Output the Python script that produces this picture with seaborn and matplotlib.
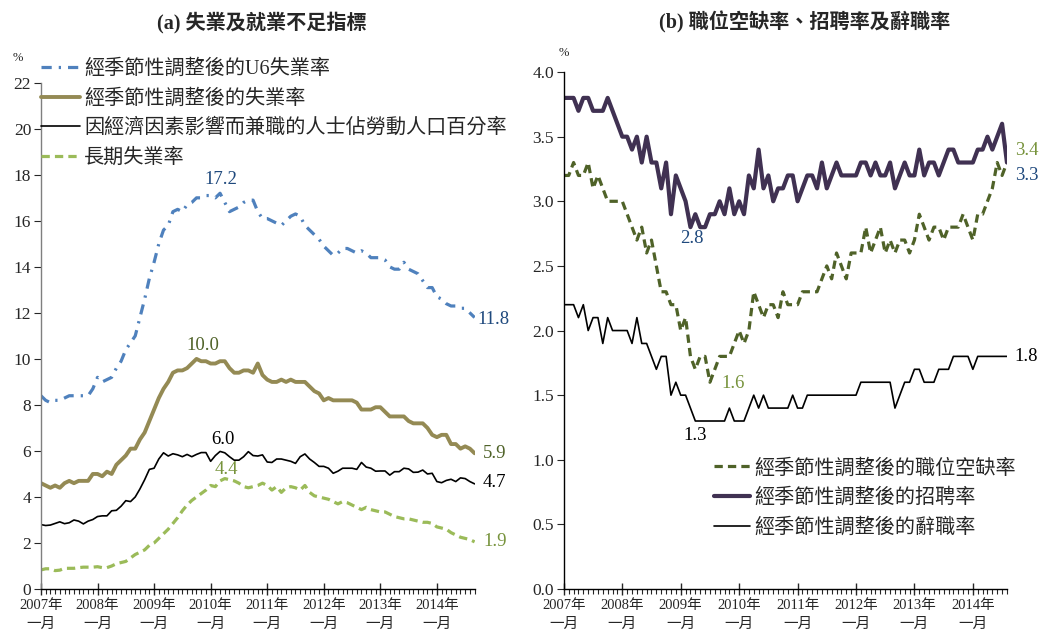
import numpy as np
import pandas as pd
import matplotlib
matplotlib.use('Agg')
import matplotlib.pyplot as plt
from matplotlib.ticker import MultipleLocator, FormatStrFormatter
import seaborn as sns

# monthly data, Jan 2007 onwards
# (a) unemployment & underemployment, %
u6_rate = [8.4, 8.2, 8.1, 8.2, 8.2, 8.3, 8.4, 8.4, 8.4, 8.4, 8.4, 8.7,
           9.2, 9.0, 9.1, 9.2, 9.6, 9.9, 10.4, 10.7, 11.0, 11.8, 12.6, 13.5,
           14.2, 15.0, 15.6, 15.8, 16.4, 16.5, 16.4, 16.7, 16.8, 17.0, 17.0, 17.1,
           17.1, 17.0, 17.2, 16.8, 16.4, 16.5, 16.6, 16.8, 16.9, 16.9, 16.4, 16.1,
           16.1, 16.0, 15.9, 15.8, 16.0, 16.2, 16.3, 16.2, 15.8, 15.6, 15.4, 15.2,
           14.9, 14.7, 14.5, 14.6, 14.8, 14.8, 14.7, 14.6, 14.7, 14.6, 14.4, 14.4,
           14.4, 14.3, 14.0, 13.9, 13.9, 14.2, 13.9, 13.8, 13.7, 13.4, 13.1, 13.1,
           12.7, 12.6, 12.4, 12.3, 12.3, 12.2, 12.2, 12.0, 11.8]
u3_rate = [4.6, 4.5, 4.4, 4.5, 4.4, 4.6, 4.7, 4.6, 4.7, 4.7, 4.7, 5.0,
           5.0, 4.9, 5.1, 5.0, 5.4, 5.6, 5.8, 6.1, 6.1, 6.5, 6.8, 7.3,
           7.8, 8.3, 8.7, 9.0, 9.4, 9.5, 9.5, 9.6, 9.8, 10.0, 9.9, 9.9,
           9.8, 9.8, 9.9, 9.9, 9.6, 9.4, 9.4, 9.5, 9.5, 9.4, 9.8, 9.3,
           9.1, 9.0, 9.0, 9.1, 9.0, 9.1, 9.0, 9.0, 9.0, 8.8, 8.6, 8.5,
           8.2, 8.3, 8.2, 8.2, 8.2, 8.2, 8.2, 8.1, 7.8, 7.8, 7.8, 7.9,
           7.9, 7.7, 7.5, 7.5, 7.5, 7.5, 7.3, 7.2, 7.2, 7.2, 7.0, 6.7,
           6.6, 6.7, 6.7, 6.3, 6.3, 6.1, 6.2, 6.1, 5.9]
part_time = [2.8, 2.76, 2.78, 2.85, 2.92, 2.84, 2.88, 3.0, 2.95, 2.83, 2.95, 3.02,
             3.15, 3.18, 3.18, 3.4, 3.42, 3.6, 3.84, 3.8, 4.0, 4.35, 4.75, 5.2,
             5.25, 5.65, 5.92, 5.78, 5.88, 5.83, 5.75, 5.85, 5.75, 5.85, 5.93, 5.93,
             5.55, 5.8, 5.98, 5.92, 5.75, 5.6, 5.6, 5.75, 5.97, 5.8, 5.78, 5.83,
             5.52, 5.5, 5.65, 5.65, 5.6, 5.55, 5.46, 5.75, 5.87, 5.65, 5.5, 5.33,
             5.33, 5.25, 5.03, 5.12, 5.25, 5.25, 5.25, 5.2, 5.5, 5.3, 5.25, 5.12,
             5.13, 5.13, 4.95, 5.1, 5.1, 5.25, 5.22, 5.07, 5.08, 5.17, 5.0, 5.03,
             4.67, 4.62, 4.72, 4.77, 4.67, 4.83, 4.8, 4.67, 4.57]
long_term = [0.83, 0.88, 0.88, 0.8, 0.82, 0.9, 0.9, 0.9, 0.93, 0.95, 0.95, 0.95,
             0.97, 0.93, 0.93, 1.0, 1.1, 1.15, 1.2, 1.35, 1.5, 1.6, 1.7, 1.9,
             2.0, 2.2, 2.4, 2.6, 2.85, 3.1, 3.4, 3.65, 3.85, 4.0, 4.15, 4.3,
             4.5, 4.45, 4.7, 4.8, 4.75, 4.7, 4.6, 4.45, 4.4, 4.45, 4.5, 4.6,
             4.5, 4.3, 4.45, 4.2, 4.4, 4.45, 4.4, 4.3, 4.5, 4.2, 4.05, 4.0,
             3.95, 3.9, 3.8, 3.7, 3.8, 3.75, 3.65, 3.55, 3.45, 3.55, 3.45, 3.4,
             3.35, 3.35, 3.25, 3.15, 3.1, 3.05, 3.05, 3.0, 2.95, 2.9, 2.9, 2.85,
             2.7, 2.65, 2.6, 2.45, 2.35, 2.25, 2.2, 2.15, 2.05]

# (b) job openings, hires, quits, %
openings = [3.2, 3.2, 3.3, 3.2, 3.2, 3.3, 3.1, 3.2, 3.1, 3.0, 3.0, 3.0,
            3.0, 2.9, 2.8, 2.7, 2.8, 2.6, 2.7, 2.5, 2.3, 2.3, 2.2, 2.2,
            2.0, 2.1, 1.8, 1.7, 1.8, 1.8, 1.6, 1.7, 1.8, 1.8, 1.8, 1.9,
            2.0, 1.9, 2.0, 2.3, 2.2, 2.1, 2.2, 2.2, 2.1, 2.3, 2.2, 2.2,
            2.2, 2.3, 2.3, 2.3, 2.3, 2.4, 2.5, 2.4, 2.6, 2.5, 2.4, 2.6,
            2.6, 2.6, 2.8, 2.6, 2.7, 2.8, 2.6, 2.7, 2.6, 2.7, 2.7, 2.6,
            2.7, 2.9, 2.8, 2.7, 2.8, 2.8, 2.7, 2.8, 2.8, 2.8, 2.9, 2.8,
            2.7, 2.9, 2.9, 3.0, 3.1, 3.3, 3.2, 3.3]
hires = [3.8, 3.8, 3.8, 3.7, 3.8, 3.8, 3.7, 3.7, 3.7, 3.8, 3.7, 3.6,
         3.5, 3.5, 3.4, 3.5, 3.3, 3.5, 3.3, 3.3, 3.1, 3.3, 2.9, 3.2,
         3.1, 3.0, 2.8, 2.9, 2.8, 2.8, 2.9, 2.9, 3.0, 2.9, 3.1, 2.9,
         3.0, 2.9, 3.2, 3.1, 3.4, 3.1, 3.2, 3.0, 3.1, 3.1, 3.2, 3.2,
         3.0, 3.1, 3.2, 3.2, 3.1, 3.3, 3.1, 3.2, 3.3, 3.2, 3.2, 3.2,
         3.2, 3.3, 3.3, 3.2, 3.3, 3.2, 3.2, 3.3, 3.1, 3.2, 3.3, 3.2,
         3.2, 3.4, 3.2, 3.3, 3.3, 3.2, 3.3, 3.4, 3.4, 3.3, 3.3, 3.3,
         3.3, 3.4, 3.4, 3.5, 3.4, 3.5, 3.6, 3.3]
quits = [2.2, 2.2, 2.2, 2.1, 2.2, 2.0, 2.1, 2.1, 1.9, 2.1, 2.0, 2.0,
         2.0, 2.0, 1.9, 2.1, 1.9, 1.9, 1.8, 1.7, 1.8, 1.8, 1.5, 1.6,
         1.5, 1.5, 1.4, 1.3, 1.3, 1.3, 1.3, 1.3, 1.3, 1.3, 1.4, 1.3,
         1.3, 1.3, 1.4, 1.5, 1.4, 1.5, 1.4, 1.4, 1.4, 1.4, 1.4, 1.5,
         1.4, 1.4, 1.5, 1.5, 1.5, 1.5, 1.5, 1.5, 1.5, 1.5, 1.5, 1.5,
         1.5, 1.6, 1.6, 1.6, 1.6, 1.6, 1.6, 1.6, 1.4, 1.5, 1.6, 1.6,
         1.7, 1.7, 1.6, 1.6, 1.6, 1.7, 1.7, 1.7, 1.8, 1.8, 1.8, 1.8,
         1.7, 1.8, 1.8, 1.8, 1.8, 1.8, 1.8, 1.8]

year_ticks = [0, 12, 24, 36, 48, 60, 72, 84]
year_labels = ['2007年\n一月', '2008年\n一月', '2009年\n一月', '2010年\n一月',
               '2011年\n一月', '2012年\n一月', '2013年\n一月', '2014年\n一月']

df_a = pd.DataFrame({'month': np.arange(len(u6_rate)), 'u6': u6_rate, 'u3': u3_rate,
                     'pt': part_time, 'lt': long_term})
df_b = pd.DataFrame({'month': np.arange(len(hires)), 'jo': openings, 'hi': hires, 'qu': quits})

sns.set_style('ticks')
plt.rcParams['font.family'] = ['Liberation Serif', 'Noto Sans CJK TC']
plt.rcParams['axes.unicode_minus'] = False

fig = plt.figure(figsize=(10.5, 6.32), dpi=100)
ax_a = fig.add_axes([0.039, 0.068, 0.413, 0.801])
ax_b = fig.add_axes([0.537, 0.068, 0.422, 0.818])

# ---- panel (a) ----
sns.lineplot(data=df_a, x='month', y='u6', ax=ax_a, color='#4F81BD', linewidth=2.3,
             linestyle=(0, (3.2, 2.2, 0.7, 2.2)), label='經季節性調整後的U6失業率')
sns.lineplot(data=df_a, x='month', y='u3', ax=ax_a, color='#948A54', linewidth=2.8,
             label='經季節性調整後的失業率')
sns.lineplot(data=df_a, x='month', y='pt', ax=ax_a, color='black', linewidth=1.2,
             label='因經濟因素影響而兼職的人士佔勞動人口百分率')
sns.lineplot(data=df_a, x='month', y='lt', ax=ax_a, color='#9BBB59', linewidth=2.3,
             linestyle=(0, (2.6, 1.6)), label='長期失業率')

ax_a.set_xlim(0, 92)
ax_a.set_ylim(0, 22)
ax_a.set_yticks(np.arange(0, 23, 2))
ax_a.legend(loc='upper left', bbox_to_anchor=(0.0, 1.046), frameon=False, fontsize=14.5,
            handlelength=1.95, handletextpad=0.2, borderpad=0, borderaxespad=0,
            labelspacing=0.5, labelcolor='#262626')
ax_a.text(-0.053, 1.049, '%', transform=ax_a.transAxes, ha='center', va='center', fontsize=9)

ax_a.text(38.2, 17.8, '17.2', color='#1F497D', ha='center', va='center', fontsize=13.5)
ax_a.text(92.7, 11.7, '11.8', color='#1F497D', ha='left', va='center', fontsize=13.5)
ax_a.text(34.4, 10.6, '10.0', color='#4F6228', ha='center', va='center', fontsize=13.5)
ax_a.text(93.8, 5.9, '5.9', color='#4F6228', ha='left', va='center', fontsize=13.5)
ax_a.text(38.6, 6.5, '6.0', color='black', ha='center', va='center', fontsize=13.5)
ax_a.text(93.6, 4.65, '4.7', color='black', ha='left', va='center', fontsize=13.5)
ax_a.text(39.4, 5.2, '4.4', color='#77933C', ha='center', va='center', fontsize=13.5)
ax_a.text(93.8, 2.05, '1.9', color='#77933C', ha='left', va='center', fontsize=13.5)

# ---- panel (b) ----
sns.lineplot(data=df_b, x='month', y='jo', ax=ax_b, color='#4F6228', linewidth=2.3,
             linestyle=(0, (2.6, 1.6)), label='經季節性調整後的職位空缺率')
sns.lineplot(data=df_b, x='month', y='hi', ax=ax_b, color='#403152', linewidth=3.0,
             label='經季節性調整後的招聘率')
sns.lineplot(data=df_b, x='month', y='qu', ax=ax_b, color='black', linewidth=1.2,
             label='經季節性調整後的辭職率')

ax_b.set_xlim(0, 91)
ax_b.set_ylim(0, 4)
ax_b.set_yticks(np.arange(0, 4.01, 0.5))
ax_b.yaxis.set_major_formatter(FormatStrFormatter('%.1f'))
ax_b.legend(loc='upper left', bbox_to_anchor=(0.339, 0.252), frameon=False, fontsize=14.5,
            handlelength=1.8, handletextpad=0.2, borderpad=0, borderaxespad=0,
            labelspacing=0.5, labelcolor='#262626')
ax_b.text(0.0, 1.037, '%', transform=ax_b.transAxes, ha='center', va='center', fontsize=9)

ax_b.text(26.3, 2.71, '2.8', color='#1F497D', ha='center', va='center', fontsize=13.5)
ax_b.text(34.7, 1.59, '1.6', color='#77933C', ha='center', va='center', fontsize=13.5)
ax_b.text(26.9, 1.19, '1.3', color='black', ha='center', va='center', fontsize=13.5)
ax_b.text(92.6, 3.39, '3.4', color='#77933C', ha='left', va='center', fontsize=13.5)
ax_b.text(92.6, 3.2, '3.3', color='#1F497D', ha='left', va='center', fontsize=13.5)
ax_b.text(92.6, 1.8, '1.8', color='black', ha='left', va='center', fontsize=13.5)

for ax in (ax_a, ax_b):
    sns.despine(ax=ax)
    ax.set_xlabel('')
    ax.set_ylabel('')
    ax.set_xticks(year_ticks)
    ax.set_xticklabels(year_labels, fontsize=10.5, linespacing=1.55)
    ax.xaxis.set_minor_locator(MultipleLocator(1))
    ax.tick_params(axis='x', which='major', direction='inout', length=9, width=1, pad=3)
    ax.tick_params(axis='x', which='minor', direction='out', length=3.5, width=0.8)
    ax.tick_params(axis='y', which='major', direction='out', length=5, labelsize=12.5, pad=2)
    for sp in ax.spines.values():
        sp.set_color('black')
        sp.set_linewidth(1)
ax_a.spines['left'].set_color('#7F7F7F')

fig.text(0.249, 0.965, '(a) 失業及就業不足指標', ha='center', va='center',
         fontsize=14.5, fontweight='bold')
fig.text(0.766, 0.965, '(b) 職位空缺率、招聘率及辭職率', ha='center', va='center',
         fontsize=14.5, fontweight='bold')

fig.savefig('out.png', dpi=100)
